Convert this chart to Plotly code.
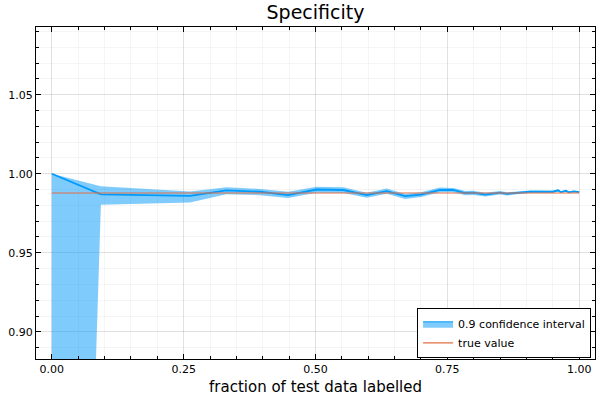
import plotly.graph_objects as go

# colors (Plots.jl default palette)
blue = "#009AFA"
band = "rgba(0,154,250,0.5)"
orange = "#E26F46"

# fraction of test data labelled
frac = [0.0, 0.093, 0.262, 0.331, 0.395, 0.448, 0.502, 0.553, 0.597, 0.635,
        0.670, 0.700, 0.736, 0.761, 0.784, 0.799, 0.822, 0.850, 0.863, 0.882,
        0.907, 0.920, 0.935, 0.950, 0.960, 0.965, 0.975, 0.980, 0.990, 1.0]

est = [1.000, 0.9869, 0.9860, 0.9894, 0.9886, 0.9865, 0.9900, 0.9897, 0.9865, 0.9890,
       0.9858, 0.9868, 0.9898, 0.9897, 0.9878, 0.9880, 0.9868, 0.9880, 0.9873, 0.9880,
       0.9886, 0.9887, 0.9888, 0.9886, 0.9895, 0.9884, 0.9892, 0.9882, 0.9888, 0.9884]

upper = [1.000, 0.9920, 0.9888, 0.9914, 0.9904, 0.9886, 0.9918, 0.9914, 0.9880, 0.9906,
         0.9872, 0.9882, 0.9912, 0.9910, 0.9890, 0.9892, 0.9879, 0.9890, 0.9883, 0.9889,
         0.9894, 0.9894, 0.9895, 0.9892, 0.9900, 0.9889, 0.9896, 0.9887, 0.9892, 0.9889]

lower = [0.0, 0.9804, 0.9818, 0.9870, 0.9864, 0.9846, 0.9880, 0.9878, 0.9848, 0.9874,
         0.9840, 0.9852, 0.9882, 0.9882, 0.9864, 0.9866, 0.9856, 0.9868, 0.9862, 0.9870,
         0.9878, 0.9880, 0.9881, 0.9880, 0.9888, 0.9878, 0.9887, 0.9877, 0.9883, 0.9879]

true_value = 0.9878

fig = go.Figure()

# ribbon
fig.add_trace(go.Scatter(x=frac + frac[::-1], y=upper + lower[::-1], fill="toself",
    fillcolor=band, line=dict(width=0), hoverinfo="skip", showlegend=False))
fig.add_trace(go.Scatter(x=frac, y=est, mode="lines", line=dict(color=blue, width=1.8),
    showlegend=False))
# legend entry for the ribbon
fig.add_trace(go.Scatter(x=[None], y=[None], mode="lines", fill="toself", fillcolor=band,
    line=dict(color=blue, width=1), name="0.9 confidence interval"))
fig.add_trace(go.Scatter(x=[frac[0], frac[-1]], y=[true_value, true_value], mode="lines",
    line=dict(color=orange, width=1.2), name="true value"))

axis_style = dict(showline=True, linecolor="black", linewidth=1.2, mirror="ticks",
    ticks="inside", ticklen=5, tickcolor="black", zeroline=False, automargin=False,
    gridcolor="rgba(0,0,0,0.08)", tickfont=dict(size=11, color="black"))

fig.update_xaxes(range=[-0.03, 1.03], tickvals=[0, 0.25, 0.5, 0.75, 1.0],
    tickformat=".2f", title_text="fraction of test data labelled",
    title_font=dict(size=15), title_standoff=6,
    minor=dict(dtick=0.05, showgrid=True, gridcolor="rgba(0,0,0,0.04)",
               ticks="inside", ticklen=3, tickcolor="black"),
    **axis_style)
fig.update_yaxes(range=[0.8828, 1.0928], tickvals=[0.90, 0.95, 1.00, 1.05],
    tickformat=".2f",
    minor=dict(dtick=0.01, showgrid=True, gridcolor="rgba(0,0,0,0.04)",
               ticks="inside", ticklen=3, tickcolor="black"),
    **axis_style)

fig.update_layout(
    title=dict(text="Specificity", x=0.5, xref="paper", xanchor="center",
               y=0.968, yanchor="middle", font=dict(size=19, color="black")),
    font=dict(family="DejaVu Sans", color="black"),
    width=600, height=400,
    margin=dict(l=36, r=5, t=27, b=41),
    plot_bgcolor="white", paper_bgcolor="white",
    legend=dict(x=0.993, y=0.002, xanchor="right", yanchor="bottom",
                bordercolor="black", borderwidth=1, bgcolor="white",
                font=dict(size=11), tracegroupgap=0),
)

# page body has a default 8px margin; remove it so the figure sits at 0,0
fig.write_html("out.html", config={"displayModeBar": False},
               post_script="document.body.style.margin='0';")
